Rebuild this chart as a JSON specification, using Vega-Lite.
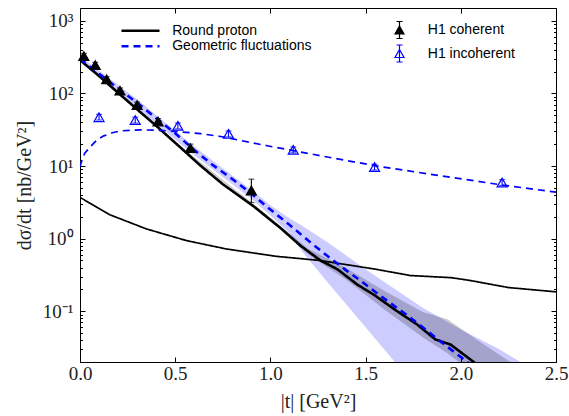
{
  "$schema": "https://vega.github.io/schema/vega-lite/v6.json",
  "width": 476,
  "height": 354,
  "autosize": {"type": "none"},
  "padding": {"left": 80, "top": 8, "right": 13, "bottom": 54},
  "datasets": {
    "curves": [
      {"t": 0, "v": 288, "model": "Round proton", "kind": "coh"},
      {"t": 0.1, "v": 174, "model": "Round proton", "kind": "coh"},
      {"t": 0.2, "v": 102, "model": "Round proton", "kind": "coh"},
      {"t": 0.3, "v": 60.3, "model": "Round proton", "kind": "coh"},
      {"t": 0.405, "v": 34.9, "model": "Round proton", "kind": "coh"},
      {"t": 0.5, "v": 20.9, "model": "Round proton", "kind": "coh"},
      {"t": 0.634, "v": 10.07, "model": "Round proton", "kind": "coh"},
      {"t": 0.75, "v": 5.62, "model": "Round proton", "kind": "coh"},
      {"t": 0.913, "v": 2.77, "model": "Round proton", "kind": "coh"},
      {"t": 1.053, "v": 1.4, "model": "Round proton", "kind": "coh"},
      {"t": 1.158, "v": 0.8, "model": "Round proton", "kind": "coh"},
      {"t": 1.263, "v": 0.5, "model": "Round proton", "kind": "coh"},
      {"t": 1.351, "v": 0.38, "model": "Round proton", "kind": "coh"},
      {"t": 1.456, "v": 0.233, "model": "Round proton", "kind": "coh"},
      {"t": 1.543, "v": 0.169, "model": "Round proton", "kind": "coh"},
      {"t": 1.666, "v": 0.1, "model": "Round proton", "kind": "coh"},
      {"t": 1.771, "v": 0.0656, "model": "Round proton", "kind": "coh"},
      {"t": 1.867, "v": 0.0408, "model": "Round proton", "kind": "coh"},
      {"t": 1.946, "v": 0.0348, "model": "Round proton", "kind": "coh"},
      {"t": 2.068, "v": 0.02, "model": "Round proton", "kind": "coh"},
      {"t": 2.1, "v": 0.0166, "model": "Round proton", "kind": "coh"},
      {"t": 0, "v": 3.7, "model": "Round proton", "kind": "incoh"},
      {"t": 0.157, "v": 2.13, "model": "Round proton", "kind": "incoh"},
      {"t": 0.349, "v": 1.36, "model": "Round proton", "kind": "incoh"},
      {"t": 0.454, "v": 1.13, "model": "Round proton", "kind": "incoh"},
      {"t": 0.559, "v": 0.94, "model": "Round proton", "kind": "incoh"},
      {"t": 0.769, "v": 0.72, "model": "Round proton", "kind": "incoh"},
      {"t": 1.032, "v": 0.57, "model": "Round proton", "kind": "incoh"},
      {"t": 1.16, "v": 0.53, "model": "Round proton", "kind": "incoh"},
      {"t": 1.26, "v": 0.5, "model": "Round proton", "kind": "incoh"},
      {"t": 1.55, "v": 0.38, "model": "Round proton", "kind": "incoh"},
      {"t": 1.736, "v": 0.31, "model": "Round proton", "kind": "incoh"},
      {"t": 1.95, "v": 0.29, "model": "Round proton", "kind": "incoh"},
      {"t": 2.05, "v": 0.265, "model": "Round proton", "kind": "incoh"},
      {"t": 2.25, "v": 0.212, "model": "Round proton", "kind": "incoh"},
      {"t": 2.5, "v": 0.185, "model": "Round proton", "kind": "incoh"},
      {"t": 0, "v": 300, "model": "Geometric fluctuations", "kind": "coh"},
      {"t": 0.1, "v": 186, "model": "Geometric fluctuations", "kind": "coh"},
      {"t": 0.2, "v": 117.5, "model": "Geometric fluctuations", "kind": "coh"},
      {"t": 0.3, "v": 74.1, "model": "Geometric fluctuations", "kind": "coh"},
      {"t": 0.4, "v": 45.7, "model": "Geometric fluctuations", "kind": "coh"},
      {"t": 0.5, "v": 28.2, "model": "Geometric fluctuations", "kind": "coh"},
      {"t": 0.6, "v": 16.6, "model": "Geometric fluctuations", "kind": "coh"},
      {"t": 0.7, "v": 10.2, "model": "Geometric fluctuations", "kind": "coh"},
      {"t": 0.8, "v": 6.61, "model": "Geometric fluctuations", "kind": "coh"},
      {"t": 0.9, "v": 4.17, "model": "Geometric fluctuations", "kind": "coh"},
      {"t": 1.0, "v": 2.51, "model": "Geometric fluctuations", "kind": "coh"},
      {"t": 1.1, "v": 1.55, "model": "Geometric fluctuations", "kind": "coh"},
      {"t": 1.2, "v": 0.933, "model": "Geometric fluctuations", "kind": "coh"},
      {"t": 1.3, "v": 0.575, "model": "Geometric fluctuations", "kind": "coh"},
      {"t": 1.4, "v": 0.363, "model": "Geometric fluctuations", "kind": "coh"},
      {"t": 1.5, "v": 0.234, "model": "Geometric fluctuations", "kind": "coh"},
      {"t": 1.6, "v": 0.148, "model": "Geometric fluctuations", "kind": "coh"},
      {"t": 1.7, "v": 0.0955, "model": "Geometric fluctuations", "kind": "coh"},
      {"t": 1.8, "v": 0.0603, "model": "Geometric fluctuations", "kind": "coh"},
      {"t": 1.9, "v": 0.0372, "model": "Geometric fluctuations", "kind": "coh"},
      {"t": 2.0, "v": 0.0234, "model": "Geometric fluctuations", "kind": "coh"},
      {"t": 2.05, "v": 0.0186, "model": "Geometric fluctuations", "kind": "coh"},
      {"t": 0, "v": 9.8, "model": "Geometric fluctuations", "kind": "incoh"},
      {"t": 0.01, "v": 12, "model": "Geometric fluctuations", "kind": "incoh"},
      {"t": 0.025, "v": 15, "model": "Geometric fluctuations", "kind": "incoh"},
      {"t": 0.055, "v": 18.5, "model": "Geometric fluctuations", "kind": "incoh"},
      {"t": 0.09, "v": 23, "model": "Geometric fluctuations", "kind": "incoh"},
      {"t": 0.125, "v": 26, "model": "Geometric fluctuations", "kind": "incoh"},
      {"t": 0.17, "v": 28.7, "model": "Geometric fluctuations", "kind": "incoh"},
      {"t": 0.213, "v": 30.5, "model": "Geometric fluctuations", "kind": "incoh"},
      {"t": 0.318, "v": 31.5, "model": "Geometric fluctuations", "kind": "incoh"},
      {"t": 0.423, "v": 31, "model": "Geometric fluctuations", "kind": "incoh"},
      {"t": 0.53, "v": 29.5, "model": "Geometric fluctuations", "kind": "incoh"},
      {"t": 0.633, "v": 27.9, "model": "Geometric fluctuations", "kind": "incoh"},
      {"t": 0.738, "v": 25.5, "model": "Geometric fluctuations", "kind": "incoh"},
      {"t": 0.983, "v": 19, "model": "Geometric fluctuations", "kind": "incoh"},
      {"t": 1.333, "v": 12.8, "model": "Geometric fluctuations", "kind": "incoh"},
      {"t": 1.578, "v": 9.8, "model": "Geometric fluctuations", "kind": "incoh"},
      {"t": 1.9, "v": 7.3, "model": "Geometric fluctuations", "kind": "incoh"},
      {"t": 2.208, "v": 5.52, "model": "Geometric fluctuations", "kind": "incoh"},
      {"t": 2.5, "v": 4.37, "model": "Geometric fluctuations", "kind": "incoh"}
    ],
    "bandGeo": [
      {"t": 0, "lo": 275, "hi": 324},
      {"t": 0.3, "lo": 63.1, "hi": 83.2},
      {"t": 0.6, "lo": 14.1, "hi": 18.6},
      {"t": 0.9, "lo": 3.55, "hi": 4.68},
      {"t": 1.0, "lo": 2.09, "hi": 2.88},
      {"t": 1.1, "lo": 1.2, "hi": 1.91},
      {"t": 1.158, "lo": 0.708, "hi": 1.55},
      {"t": 1.3, "lo": 0.251, "hi": 0.891},
      {"t": 1.5, "lo": 0.0603, "hi": 0.38},
      {"t": 1.657, "lo": 0.0195, "hi": 0.2},
      {"t": 1.8, "lo": 0.0079, "hi": 0.112},
      {"t": 2.0, "lo": 0.00316, "hi": 0.0562},
      {"t": 2.2, "lo": 0.00126, "hi": 0.0302},
      {"t": 2.32, "lo": 0.001, "hi": 0.0195},
      {"t": 2.35, "lo": 0.001, "hi": 0.0166}
    ],
    "bandRP": [
      {"t": 0, "lo": 278, "hi": 298},
      {"t": 0.5, "lo": 20.3, "hi": 21.5},
      {"t": 1.0, "lo": 1.8, "hi": 1.95},
      {"t": 1.2, "lo": 0.6, "hi": 0.72},
      {"t": 1.4, "lo": 0.27, "hi": 0.39},
      {"t": 1.6, "lo": 0.105, "hi": 0.19},
      {"t": 1.8, "lo": 0.044, "hi": 0.098},
      {"t": 1.93, "lo": 0.0263, "hi": 0.0776},
      {"t": 2.1, "lo": 0.012, "hi": 0.038},
      {"t": 2.26, "lo": 0.0063, "hi": 0.02},
      {"t": 2.3, "lo": 0.005, "hi": 0.017}
    ],
    "points": [
      {"t": 0.02, "v": 327, "lo": 300, "hi": 356, "series": "H1 coherent"},
      {"t": 0.08, "v": 246, "lo": 226, "hi": 268, "series": "H1 coherent"},
      {"t": 0.14, "v": 156, "lo": 143, "hi": 170, "series": "H1 coherent"},
      {"t": 0.21, "v": 109, "lo": 100, "hi": 119, "series": "H1 coherent"},
      {"t": 0.3, "v": 69, "lo": 63, "hi": 76, "series": "H1 coherent"},
      {"t": 0.41, "v": 41, "lo": 37.5, "hi": 45, "series": "H1 coherent"},
      {"t": 0.58, "v": 17.6, "lo": 15.6, "hi": 20, "series": "H1 coherent"},
      {"t": 0.9, "v": 4.6, "lo": 3.15, "hi": 6.6, "series": "H1 coherent"},
      {"t": 0.1, "v": 47, "lo": 43, "hi": 51.5, "series": "H1 incoherent"},
      {"t": 0.29, "v": 43, "lo": 39, "hi": 47, "series": "H1 incoherent"},
      {"t": 0.514, "v": 35.7, "lo": 32.5, "hi": 39.2, "series": "H1 incoherent"},
      {"t": 0.78, "v": 27.7, "lo": 25.2, "hi": 30.4, "series": "H1 incoherent"},
      {"t": 1.12, "v": 16.7, "lo": 15.2, "hi": 18.3, "series": "H1 incoherent"},
      {"t": 1.547, "v": 9.66, "lo": 8.8, "hi": 10.6, "series": "H1 incoherent"},
      {"t": 2.217, "v": 5.93, "lo": 5.4, "hi": 6.5, "series": "H1 incoherent"}
    ]
  },
  "layer": [
    {
      "data": {"name": "bandGeo"},
      "mark": {"type": "area", "clip": true, "color": "#0000ff", "opacity": 0.2},
      "encoding": {
        "x": {"field": "t", "type": "quantitative", "scale": {"domain": [0, 2.5], "nice": false, "zero": false},
          "axis": {"orient": "bottom", "values": [0, 0.5, 1, 1.5, 2, 2.5], "format": ".1f", "tickSize": -5, "labelPadding": 7, "labelFlush": false, "title": "|t| [GeV²]", "titlePadding": 8}},
        "y": {"field": "lo", "type": "quantitative", "scale": {"type": "log", "domain": [0.02, 1500], "nice": false},
          "axis": {"orient": "left", "values": [0.02,0.03,0.04,0.05,0.06,0.07,0.08,0.09,0.1,0.2,0.3,0.4,0.5,0.6,0.7,0.8,0.9,1,2,3,4,5,6,7,8,9,10,20,30,40,50,60,70,80,90,100,200,300,400,500,600,700,800,900,1000],
            "labelExpr": "datum.value == 1000 ? '10³' : datum.value == 100 ? '10²' : datum.value == 10 ? '10¹' : datum.value == 1 ? '10⁰' : datum.value == 0.1 ? '10⁻¹' : ''",
            "tickSize": {"condition": {"test": "datum.value == 1000 || datum.value == 100 || datum.value == 10 || datum.value == 1 || datum.value == 0.1", "value": -5}, "value": -2.5},
            "labelPadding": 12, "labelOverlap": false, "labelFlush": false, "title": "dσ/dt  [nb/GeV²]", "titlePadding": 8}},
        "y2": {"field": "hi"}
      }
    },
    {
      "data": {"name": "bandRP"},
      "mark": {"type": "area", "clip": true, "color": "#000000", "opacity": 0.2},
      "encoding": {
        "x": {"field": "t", "type": "quantitative", "scale": {"domain": [0, 2.5], "nice": false, "zero": false}, "axis": null},
        "y": {"field": "lo", "type": "quantitative", "scale": {"type": "log", "domain": [0.02, 1500], "nice": false}, "axis": null},
        "y2": {"field": "hi"}
      }
    },
    {
      "data": {"name": "curves"},
      "mark": {"type": "line", "clip": true, "interpolate": "linear"},
      "encoding": {
        "x": {"field": "t", "type": "quantitative", "scale": {"domain": [0, 2.5], "nice": false, "zero": false},
          "axis": {"orient": "top", "values": [0, 0.5, 1, 1.5, 2, 2.5], "labels": false, "tickSize": -5, "title": null}},
        "y": {"field": "v", "type": "quantitative", "scale": {"type": "log", "domain": [0.02, 1500], "nice": false},
          "axis": {"orient": "right", "values": [0.02,0.03,0.04,0.05,0.06,0.07,0.08,0.09,0.1,0.2,0.3,0.4,0.5,0.6,0.7,0.8,0.9,1,2,3,4,5,6,7,8,9,10,20,30,40,50,60,70,80,90,100,200,300,400,500,600,700,800,900,1000],
            "labels": false,
            "tickSize": {"condition": {"test": "datum.value == 1000 || datum.value == 100 || datum.value == 10 || datum.value == 1 || datum.value == 0.1", "value": -5}, "value": -2.5},
            "title": null}},
        "color": {"field": "model", "type": "nominal", "scale": {"domain": ["Round proton", "Geometric fluctuations"], "range": ["#000000", "#0000ff"]},
          "legend": {"orient": "none", "legendX": 53.5, "legendY": 15.7, "title": null, "symbolType": "M-3.8,0L3.8,0", "symbolSize": 100, "symbolStrokeWidth": 2.5, "labelFont": "Liberation Sans", "labelFontSize": 14, "labelColor": "#000000", "labelOffset": 24.7, "rowPadding": 1.5, "padding": 0}},
        "strokeDash": {"field": "model", "type": "nominal", "scale": {"domain": ["Round proton", "Geometric fluctuations"], "range": [[1, 0], [7, 5]]},
          "legend": {"orient": "none", "legendX": 53.5, "legendY": 15.7, "title": null, "symbolType": "M-3.8,0L3.8,0", "symbolSize": 100, "symbolStrokeWidth": 2.5, "labelFont": "Liberation Sans", "labelFontSize": 14, "labelColor": "#000000", "labelOffset": 24.7, "rowPadding": 1.5, "padding": 0}},
        "strokeWidth": {"field": "kind", "type": "nominal", "scale": {"domain": ["coh", "incoh"], "range": [2.6, 1.7]}, "legend": null},
        "detail": {"field": "kind"}
      }
    },
    {
      "data": {"name": "points"},
      "mark": {"type": "rule", "strokeWidth": 1.1},
      "encoding": {
        "x": {"field": "t", "type": "quantitative", "scale": {"domain": [0, 2.5], "nice": false, "zero": false}, "axis": null},
        "y": {"field": "lo", "type": "quantitative", "scale": {"type": "log", "domain": [0.02, 1500], "nice": false}, "axis": null},
        "y2": {"field": "hi"},
        "color": {"condition": {"test": "datum.series == 'H1 coherent'", "value": "#000000"}, "value": "#0000ff"}
      }
    },
    {
      "data": {"name": "points"},
      "transform": [{"fold": ["lo", "hi"], "as": ["end", "ev"]}],
      "mark": {"type": "tick", "orient": "horizontal", "size": 6, "thickness": 1.1},
      "encoding": {
        "x": {"field": "t", "type": "quantitative", "scale": {"domain": [0, 2.5], "nice": false, "zero": false}, "axis": null},
        "y": {"field": "ev", "type": "quantitative", "scale": {"type": "log", "domain": [0.02, 1500], "nice": false}, "axis": null},
        "color": {"condition": {"test": "datum.series == 'H1 coherent'", "value": "#000000"}, "value": "#0000ff"}
      }
    },
    {
      "data": {"name": "points"},
      "mark": {"type": "point", "shape": "triangle-up", "size": 100, "strokeWidth": 1.2, "opacity": 1, "filled": false},
      "encoding": {
        "x": {"field": "t", "type": "quantitative", "scale": {"domain": [0, 2.5], "nice": false, "zero": false}, "axis": null},
        "y": {"field": "v", "type": "quantitative", "scale": {"type": "log", "domain": [0.02, 1500], "nice": false}, "axis": null},
        "fill": {"field": "series", "type": "nominal", "scale": {"domain": ["H1 coherent", "H1 incoherent"], "range": ["#000000", "transparent"]},
          "legend": {"orient": "none", "legendX": 312.5, "legendY": 15, "title": null, "symbolType": "M0,-0.8L0.9,0.8L-0.9,0.8Z M0,-1.7L0,1.7 M-0.6,-1.7L0.6,-1.7 M-0.6,1.7L0.6,1.7", "symbolSize": 100, "symbolStrokeWidth": 1.2, "labelFont": "Liberation Sans", "labelFontSize": 14, "labelColor": "#000000", "labelOffset": 21.3, "rowPadding": 1.5, "padding": 0}},
        "stroke": {"field": "series", "type": "nominal", "scale": {"domain": ["H1 coherent", "H1 incoherent"], "range": ["#000000", "#0000ff"]},
          "legend": {"orient": "none", "legendX": 312.5, "legendY": 15, "title": null, "symbolType": "M0,-0.8L0.9,0.8L-0.9,0.8Z M0,-1.7L0,1.7 M-0.6,-1.7L0.6,-1.7 M-0.6,1.7L0.6,1.7", "symbolSize": 100, "symbolStrokeWidth": 1.2, "labelFont": "Liberation Sans", "labelFontSize": 14, "labelColor": "#000000", "labelOffset": 21.3, "rowPadding": 1.5, "padding": 0}}
      }
    }
  ],
  "resolve": {"axis": {"x": "independent", "y": "independent"}},
  "config": {
    "view": {"stroke": null},
    "axis": {
      "domainColor": "#000000", "domainWidth": 1, "tickColor": "#000000", "tickWidth": 1, "grid": false,
      "labelFont": "Liberation Serif", "labelFontSize": 19, "labelColor": "#222222",
      "titleFont": "Liberation Serif", "titleFontSize": 20, "titleFontWeight": "normal", "titleColor": "#222222"
    }
  }
}
